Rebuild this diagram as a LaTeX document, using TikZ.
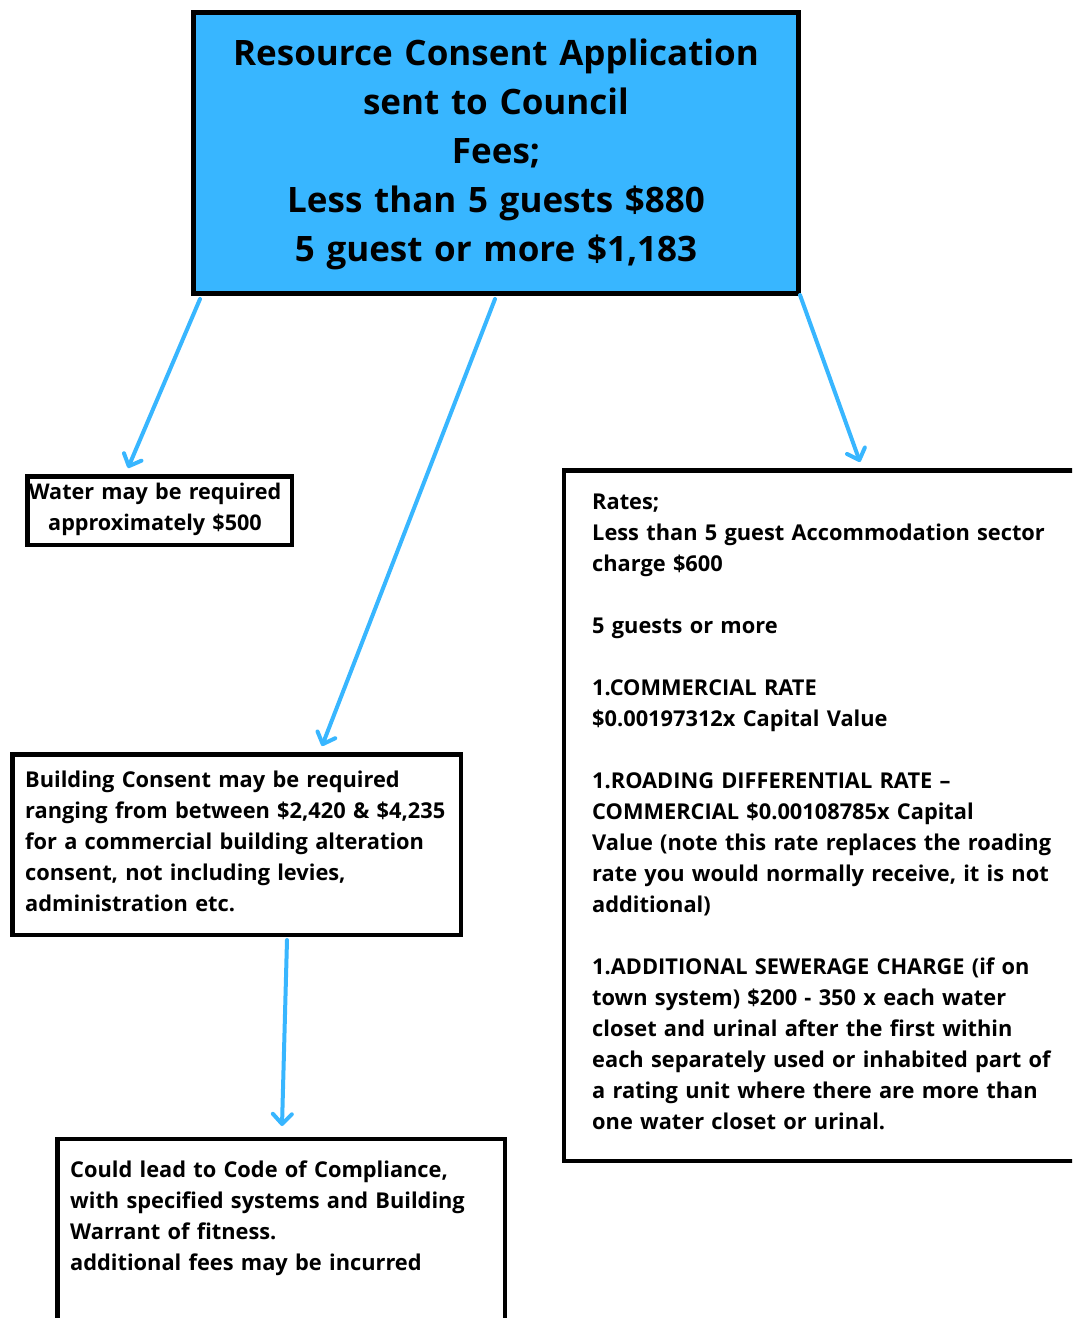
\documentclass[tikz,border=0pt]{standalone}
\usepackage{fontspec}
\setmainfont{Open Sans}
\usetikzlibrary{arrows.meta}
\definecolor{skyblue}{HTML}{38B6FF}
\begin{document}
\begin{tikzpicture}[x=1pt,y=-1pt,
  box/.style={draw=black, line width=4.5pt, inner sep=0pt, fill=white},
  bodytext/.style={inner sep=0pt, align=left, text width=480pt, anchor=base west,
    font=\bfseries\fontsize{21.8}{31}\selectfont},
  conn/.style={draw=skyblue, line width=4pt, line cap=round,
    -{Straight Barb[length=10pt,width=19pt,line width=4pt,round]}}
]
\useasboundingbox (0,0) rectangle (1072,1318);
\clip (0,0) rectangle (1072,1318);
\fill[white] (0,0) rectangle (1072,1318);

% boxes
\node[box, fill=skyblue, line width=5pt, minimum width=605pt, minimum height=281pt] (top) at (496,153) {};
\node[box, minimum width=264.5pt, minimum height=68.5pt] (water) at (159.5,510.5) {};
\node[box, minimum width=448.5pt, minimum height=180.5pt] (building) at (236.5,844.5) {};
\node[box, minimum width=447.5pt, minimum height=190.75pt] (compliance) at (281,1234.6) {};
\node[box, minimum width=525.75pt, minimum height=690.5pt] (rates) at (827.1,815.5) {};

% texts
\node[inner sep=0pt, align=center, text width=600pt, anchor=base,
  font=\bfseries\fontsize{35}{49}\selectfont] (toptext) at (496,65)
  {Resource Consent Application\\sent to Council\\Fees;\\Less than 5 guests \$880\\5 guest or more \$1,183};
\node[inner sep=0pt, align=center, text width=264pt, anchor=base,
  font=\bfseries\fontsize{21.6}{31}\selectfont] (watertext) at (155,499)
  {Water may be required\\approximately \$500};
\node[bodytext] (buildingtext) at (25,787)
  {Building Consent may be required\\ranging from between \$2,420 \& \$4,235\\for a commercial building alteration\\consent, not including levies,\\administration etc.};
\node[bodytext] (compliancetext) at (70,1177)
  {Could lead to Code of Compliance,\\with specified systems and Building\\Warrant of fitness.\\additional fees may be incurred};
\node[bodytext] (ratestext) at (592,509)
  {Rates;\\Less than 5 guest Accommodation sector\\charge \$600\\[31pt]5 guests or more\\[31pt]1.COMMERCIAL RATE\\\$0.00197312x Capital Value\\[31pt]1.ROADING DIFFERENTIAL RATE –\\COMMERCIAL \$0.00108785x Capital\\Value (note this rate replaces the roading\\rate you would normally receive, it is not\\additional)\\[31pt]1.ADDITIONAL SEWERAGE CHARGE (if on\\town system) \$200 - 350 x each water\\closet and urinal after the first within\\each separately used or inhabited part of\\a rating unit where there are more than\\one water closet or urinal.};

% connector end points
\coordinate (s1) at (200,299);
\coordinate (e1) at (128,468);
\coordinate (s2) at (495,299);
\coordinate (e2) at (322,746);
\coordinate (s3) at (800,295);
\coordinate (e3) at (860,462);
\coordinate (s4) at (287,940);
\coordinate (e4) at (282,1126);

\draw[conn] (s1) -- (e1);
\draw[conn] (s2) -- (e2);
\draw[conn] (s3) -- (e3);
\draw[conn] (s4) -- (e4);
\end{tikzpicture}
\end{document}
